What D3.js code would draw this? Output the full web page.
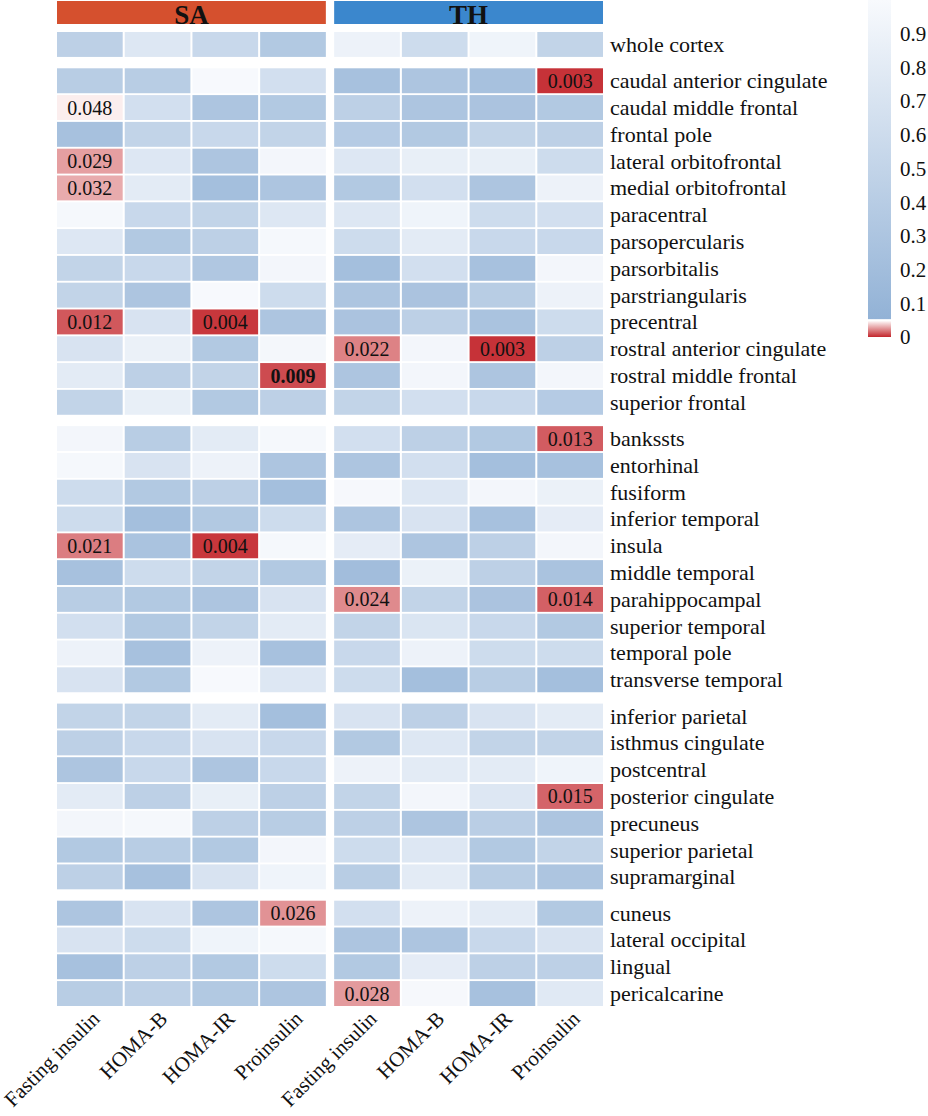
<!DOCTYPE html>
<html>
<head>
<meta charset="utf-8">
<script src="https://cdn.jsdelivr.net/npm/d3@7"></script>
<style>
  body { margin: 0; background: #fff; }
</style>
</head>
<body>
<div id="chart"></div>
<script>
// row groups (lobes), top to bottom
var regionGroups = [
  ["whole cortex"],
  ["caudal anterior cingulate", "caudal middle frontal", "frontal pole", "lateral orbitofrontal",
   "medial orbitofrontal", "paracentral", "parsopercularis", "parsorbitalis", "parstriangularis",
   "precentral", "rostral anterior cingulate", "rostral middle frontal", "superior frontal"],
  ["bankssts", "entorhinal", "fusiform", "inferior temporal", "insula", "middle temporal",
   "parahippocampal", "superior temporal", "temporal pole", "transverse temporal"],
  ["inferior parietal", "isthmus cingulate", "postcentral", "posterior cingulate", "precuneus",
   "superior parietal", "supramarginal"],
  ["cuneus", "lateral occipital", "lingual", "pericalcarine"]
];
var measures = ["Fasting insulin", "HOMA-B", "HOMA-IR", "Proinsulin"];
var panels = ["SA", "TH"];

// p values, one row per region (same order as above)
var saValues = [
  [0.45, 0.75, 0.55, 0.35],
  [0.40, 0.40, 0.99, 0.65],
  [0.048, 0.65, 0.30, 0.35],
  [0.25, 0.50, 0.55, 0.50],
  [0.029, 0.75, 0.30, 0.95],
  [0.032, 0.80, 0.22, 0.30],
  [0.97, 0.55, 0.50, 0.75],
  [0.75, 0.35, 0.45, 0.97],
  [0.50, 0.55, 0.33, 0.95],
  [0.50, 0.30, 0.99, 0.60],
  [0.012, 0.70, 0.004, 0.30],
  [0.70, 0.88, 0.35, 0.96],
  [0.80, 0.45, 0.50, 0.009],
  [0.50, 0.85, 0.35, 0.45],
  [0.95, 0.40, 0.80, 0.97],
  [0.97, 0.70, 0.90, 0.30],
  [0.60, 0.35, 0.45, 0.22],
  [0.60, 0.22, 0.35, 0.60],
  [0.021, 0.27, 0.004, 0.97],
  [0.25, 0.60, 0.50, 0.35],
  [0.40, 0.35, 0.30, 0.70],
  [0.65, 0.35, 0.50, 0.80],
  [0.90, 0.25, 0.90, 0.25],
  [0.70, 0.35, 0.99, 0.75],
  [0.50, 0.50, 0.80, 0.22],
  [0.45, 0.55, 0.70, 0.55],
  [0.30, 0.55, 0.30, 0.55],
  [0.80, 0.45, 0.85, 0.45],
  [0.95, 0.97, 0.45, 0.40],
  [0.35, 0.40, 0.35, 0.95],
  [0.45, 0.25, 0.70, 0.92],
  [0.30, 0.70, 0.30, 0.026],
  [0.70, 0.60, 0.92, 0.97],
  [0.25, 0.45, 0.35, 0.60],
  [0.40, 0.45, 0.35, 0.30]
];
var thValues = [
  [0.90, 0.60, 0.92, 0.50],
  [0.25, 0.30, 0.25, 0.003],
  [0.45, 0.30, 0.28, 0.35],
  [0.38, 0.35, 0.50, 0.45],
  [0.75, 0.85, 0.85, 0.60],
  [0.35, 0.65, 0.30, 0.90],
  [0.75, 0.92, 0.60, 0.65],
  [0.60, 0.80, 0.55, 0.55],
  [0.22, 0.65, 0.25, 0.95],
  [0.30, 0.28, 0.40, 0.90],
  [0.28, 0.45, 0.27, 0.60],
  [0.022, 0.95, 0.003, 0.45],
  [0.30, 0.95, 0.30, 0.95],
  [0.50, 0.65, 0.55, 0.38],
  [0.65, 0.45, 0.35, 0.013],
  [0.30, 0.65, 0.22, 0.25],
  [0.98, 0.75, 0.95, 0.88],
  [0.30, 0.70, 0.25, 0.82],
  [0.82, 0.30, 0.45, 0.95],
  [0.20, 0.88, 0.45, 0.27],
  [0.024, 0.50, 0.28, 0.014],
  [0.50, 0.72, 0.55, 0.35],
  [0.55, 0.90, 0.60, 0.60],
  [0.60, 0.22, 0.40, 0.22],
  [0.70, 0.45, 0.70, 0.80],
  [0.35, 0.75, 0.50, 0.50],
  [0.90, 0.80, 0.80, 0.92],
  [0.50, 0.95, 0.75, 0.015],
  [0.45, 0.30, 0.42, 0.30],
  [0.60, 0.75, 0.35, 0.50],
  [0.40, 0.80, 0.40, 0.30],
  [0.65, 0.90, 0.80, 0.35],
  [0.30, 0.30, 0.55, 0.70],
  [0.35, 0.82, 0.45, 0.45],
  [0.028, 0.98, 0.25, 0.78]
];
// cells whose label is printed in bold
var boldCells = [["SA", "rostral middle frontal", "Proinsulin"]];
var legendTicks = [0, 0.1, 0.2, 0.3, 0.4, 0.5, 0.6, 0.7, 0.8, 0.9];

(function () {
  'use strict'
  var W = 928, H = 1116;
  var svg = d3.select("#chart").append("svg")
    .attr("width", W).attr("height", H)
    .attr("font-family", "'Liberation Serif', 'Times New Roman', Times, serif")
    .attr("fill", "#111");

  // flatten rows with their group index
  var rows = [];
  regionGroups.forEach(function (g, gi) {
    g.forEach(function (name) { rows.push({name: name, group: gi}); });
  });

  var groupGap = 9.5;
  var top = 32, bottom = 1006 - groupGap * (regionGroups.length - 1);
  var yBand = d3.scaleBand()
    .domain(rows.map(function (d) { return d.name; }))
    .range([top, bottom])
    .paddingInner(0.07);
  var yRow = function (d) { return yBand(d.name) + d.group * groupGap; };

  var panelX = d3.scaleBand().domain(panels).range([57, 603]).paddingInner(0.03);
  var colX = d3.scaleBand().domain(measures).range([0, panelX.bandwidth()]).paddingInner(0.03);

  var blue = d3.scaleLinear().domain([0.05, 1]).range(["#92b2d6", "#f8fafd"]);
  var red = d3.scaleLinear().domain([0, 0.05]).range(["#c3262c", "#fdf6f6"]);
  var color = function (v) { return v < 0.05 ? red(v) : blue(v); };
  var fmt = d3.format(".3f");
  var headerColor = {SA: "#d5502e", TH: "#3b87cd"};

  var cells = [];
  panels.forEach(function (p) {
    var vals = p === "SA" ? saValues : thValues;
    rows.forEach(function (r, ri) {
      measures.forEach(function (m, mi) {
        var bold = boldCells.some(function (b) { return b[0] === p && b[1] === r.name && b[2] === m; });
        cells.push({panel: p, row: r, measure: m, value: vals[ri][mi], bold: bold});
      });
    });
  });

  // panel headers
  var head = svg.selectAll("g.head").data(panels).enter().append("g")
    .attr("class", "head")
    .attr("transform", function (p) { return "translate(" + panelX(p) + ",1)"; });
  head.append("rect")
    .attr("width", panelX.bandwidth()).attr("height", 23)
    .attr("fill", function (p) { return headerColor[p]; });
  head.append("text")
    .attr("x", panelX.bandwidth() / 2).attr("y", 23)
    .attr("text-anchor", "middle")
    .attr("font-size", 27).attr("font-weight", "bold")
    .text(function (p) { return p; });

  // heatmap cells
  var cell = svg.selectAll("g.cell").data(cells).enter().append("g")
    .attr("class", "cell")
    .attr("transform", function (d) {
      return "translate(" + (panelX(d.panel) + colX(d.measure)) + "," + yRow(d.row) + ")";
    });
  cell.append("rect")
    .attr("width", colX.bandwidth()).attr("height", yBand.bandwidth())
    .attr("fill", function (d) { return color(d.value); });
  cell.filter(function (d) { return d.value < 0.05; }).append("text")
    .attr("x", colX.bandwidth() / 2).attr("y", yBand.bandwidth() / 2)
    .attr("dy", "0.35em")
    .attr("text-anchor", "middle")
    .attr("font-size", 20)
    .attr("font-weight", function (d) { return d.bold ? "bold" : "normal"; })
    .text(function (d) { return fmt(d.value); });

  // row labels
  svg.selectAll("text.row").data(rows).enter().append("text")
    .attr("class", "row")
    .attr("x", 610)
    .attr("y", function (d) { return yRow(d) + yBand.bandwidth() / 2; })
    .attr("dy", "0.34em")
    .attr("font-size", 22)
    .text(function (d) { return d.name; });

  // column labels, rotated
  var colLabels = [];
  panels.forEach(function (p) { measures.forEach(function (m) { colLabels.push({panel: p, measure: m}); }); });
  svg.selectAll("text.col").data(colLabels).enter().append("text")
    .attr("class", "col")
    .attr("transform", function (d) {
      var cx = panelX(d.panel) + colX(d.measure) + colX.bandwidth() / 2;
      return "translate(" + (cx + 11) + ",1020) rotate(-45)";
    })
    .attr("text-anchor", "end")
    .attr("font-size", 21)
    .text(function (d) { return d.measure; });

  // colour bar
  var ly = d3.scaleLinear().domain([0, 1]).range([337, 0]);
  var defs = svg.append("defs");
  var gb = defs.append("linearGradient").attr("id", "gBlue")
    .attr("x1", 0).attr("x2", 0).attr("y1", 1).attr("y2", 0);
  gb.append("stop").attr("offset", "0%").attr("stop-color", blue(0.05));
  gb.append("stop").attr("offset", "100%").attr("stop-color", blue(1));
  var gr = defs.append("linearGradient").attr("id", "gRed")
    .attr("x1", 0).attr("x2", 0).attr("y1", 1).attr("y2", 0);
  gr.append("stop").attr("offset", "0%").attr("stop-color", red(0));
  gr.append("stop").attr("offset", "100%").attr("stop-color", red(0.05));

  var legend = svg.append("g").attr("transform", "translate(868,0)");
  legend.append("rect")
    .attr("y", ly(1)).attr("width", 23).attr("height", ly(0.05) - ly(1) - 1)
    .attr("fill", "url(#gBlue)");
  legend.append("rect")
    .attr("y", ly(0.05) + 1).attr("width", 23).attr("height", ly(0) - ly(0.05) - 1)
    .attr("fill", "url(#gRed)");
  legend.selectAll("text").data(legendTicks).enter().append("text")
    .attr("x", 32)
    .attr("y", function (d) { return ly(d); })
    .attr("dy", "0.35em")
    .attr("font-size", 21)
    .text(function (d) { return d === 0 ? "0" : d3.format(".1f")(d); });
})();
</script>
</body>
</html>
